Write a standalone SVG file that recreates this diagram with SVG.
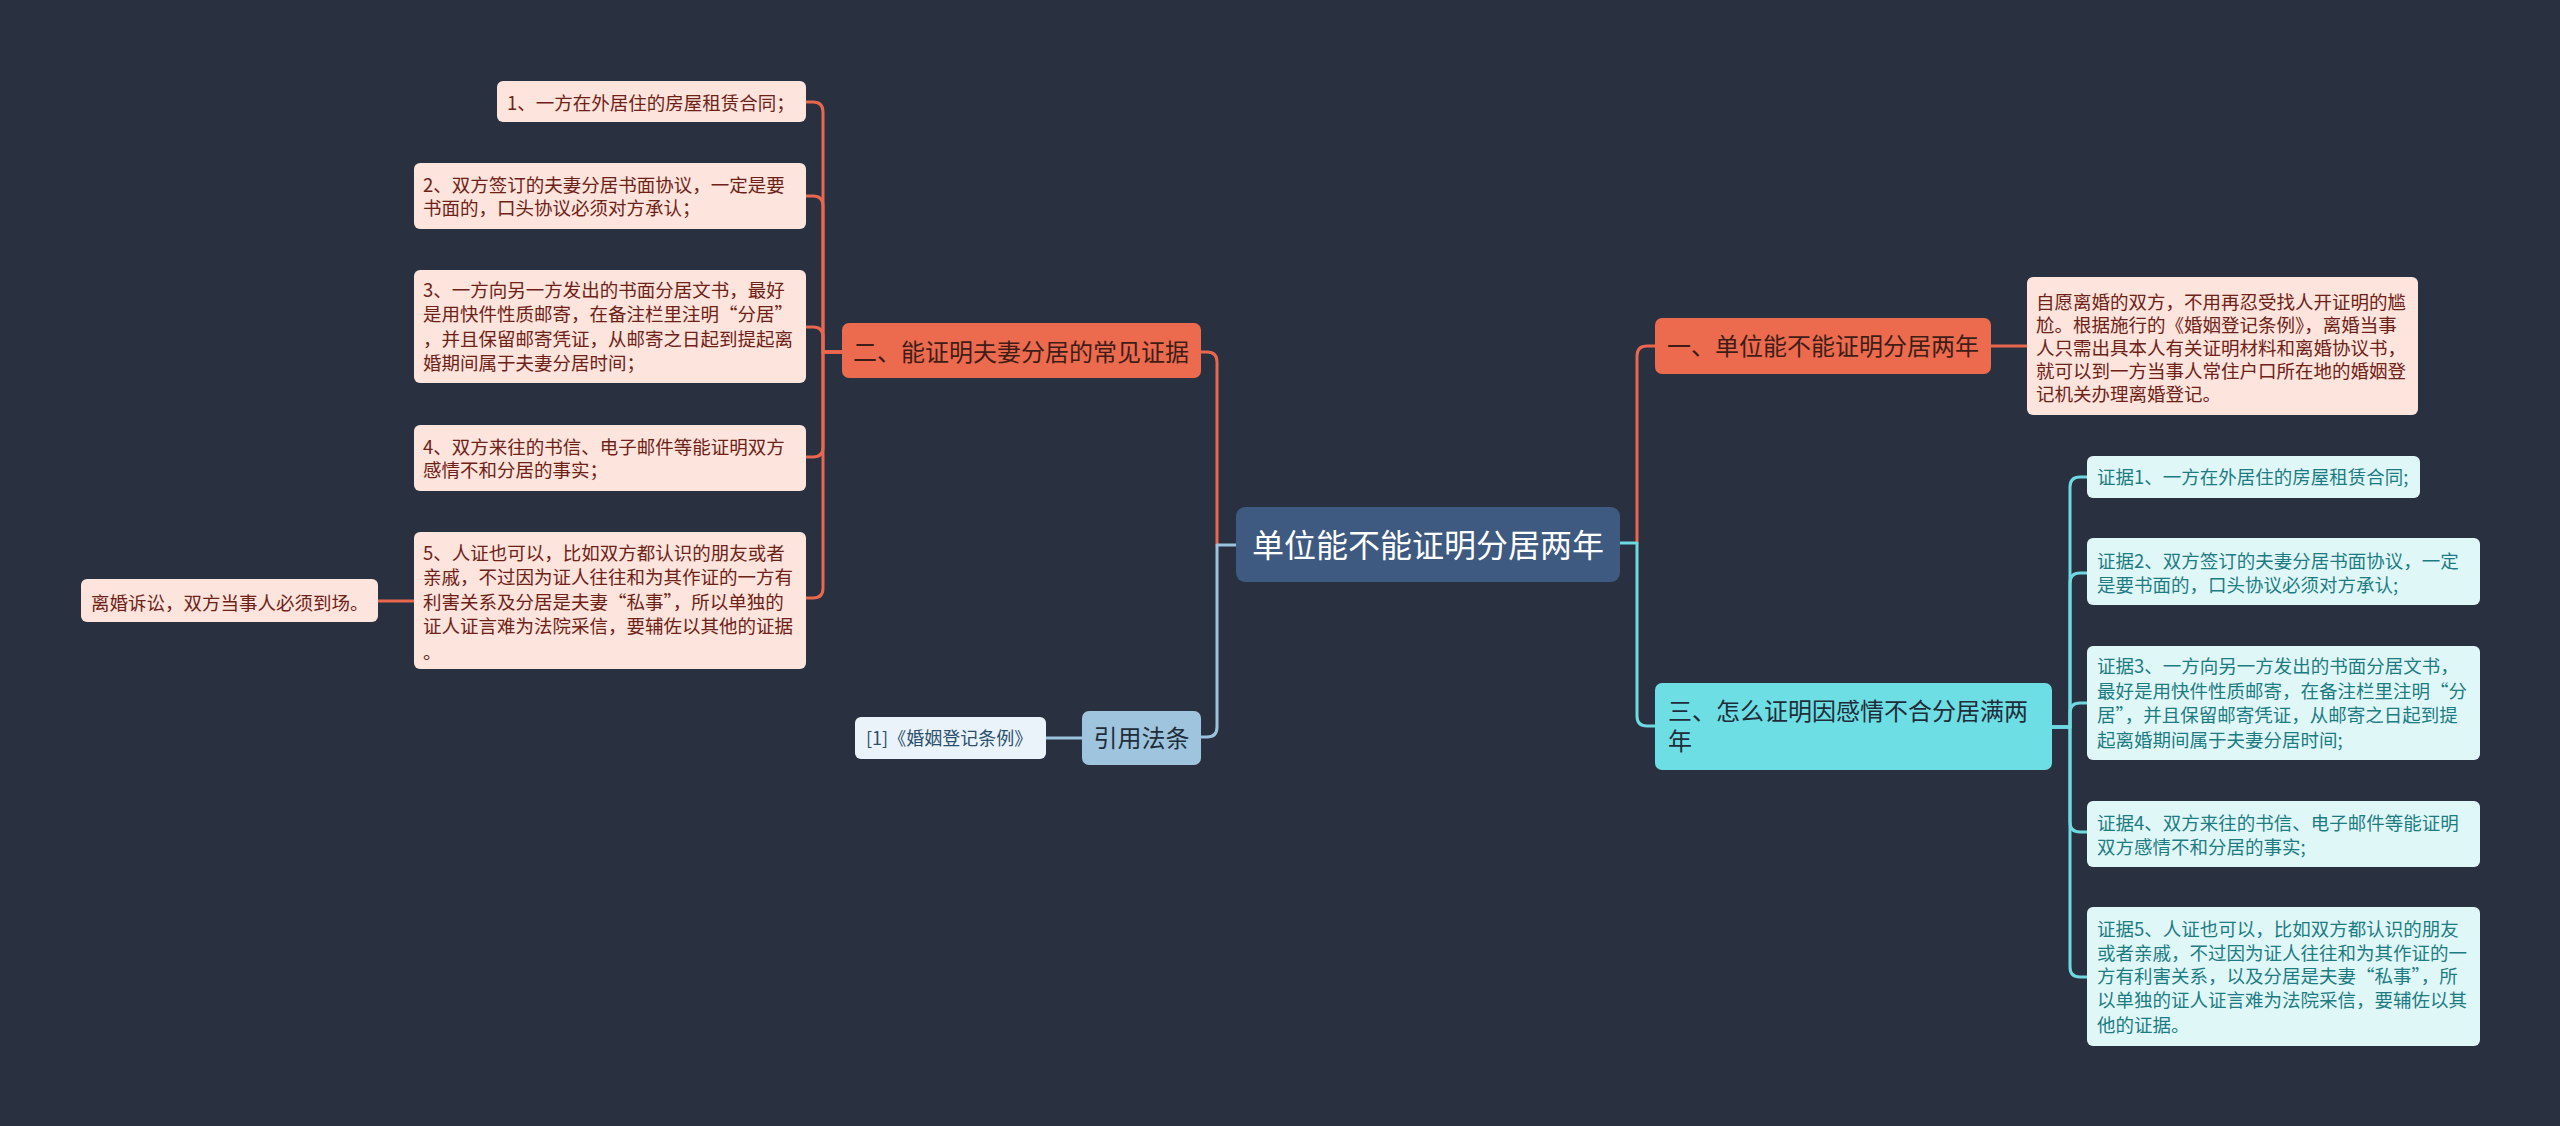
<svg xmlns="http://www.w3.org/2000/svg" width="2560" height="1126" viewBox="0 0 2560 1126">
<style>
text{font-family:"Noto Sans CJK SC","Noto Sans",sans-serif;}
.bg{fill:#29303f;}
.center{fill:#3e5a80;}
.ct{fill:#ffffff;font-size:32px;}
.red{fill:#ec6b4f;}
.redt{fill:#3f1d16;font-size:24px;}
.cyan{fill:#6ddfe4;}
.cyant{fill:#1f2d3a;font-size:24px;}
.lblue{fill:#9ec4de;}
.lbluet{fill:#1f2d3a;font-size:24px;}
.pink{fill:#fde4dc;}
.pinkt{fill:#6e2217;font-size:18.5px;}
.lcyan{fill:#e0f7f8;}
.lcyant{fill:#1d7c82;font-size:18.5px;}
.wblue{fill:#eaf3f9;}
.wbluet{fill:#2b4f6e;font-size:18px;}
.c{fill:none;stroke-width:3;stroke-linecap:round;stroke-linejoin:round;}
.cr{stroke:#e8674e;}
.cc{stroke:#6fd9e2;}
.cb{stroke:#9cc3de;}
</style>
<rect class="bg" x="0" y="0" width="2560" height="1126"/>
<g id="connectors">
<path class="c cr" d="M1217,545 V362 Q1217,352 1207,352 H1201"/>
<path class="c cb" d="M1236,545 H1217 V727 Q1217,737 1207,737 H1201"/>
<path class="c cb" d="M1082,738 H1046"/>
<path class="c cr" d="M842,352 H823 V112 Q823,102 813,102 H806"/>
<path class="c cr" d="M842,352 H823 V206 Q823,196 813,196 H806"/>
<path class="c cr" d="M842,352 H823 V337 Q823,327 813,327 H806"/>
<path class="c cr" d="M842,352 H823 V447 Q823,457 813,457 H806"/>
<path class="c cr" d="M842,352 H823 V588 Q823,598 813,598 H806"/>
<path class="c cr" d="M414,601 H378"/>
<path class="c cr" d="M1637,543 V356 Q1637,346 1647,346 H1655"/>
<path class="c cc" d="M1620,543 H1637 V716 Q1637,726 1647,726 H1655"/>
<path class="c cr" d="M1991,346 H2027"/>
<path class="c cc" d="M2052,727 H2070 V487 Q2070,477 2080,477 H2087"/>
<path class="c cc" d="M2052,727 H2070 V583 Q2070,573 2080,573 H2087"/>
<path class="c cc" d="M2052,727 H2070 V713 Q2070,703 2080,703 H2087"/>
<path class="c cc" d="M2052,727 H2070 V822 Q2070,832 2080,832 H2087"/>
<path class="c cc" d="M2052,727 H2070 V967 Q2070,977 2080,977 H2087"/>
</g>
<g id="n-center">
<rect class="center" x="1236" y="507" width="384" height="75" rx="9"/>
<text class="ct" x="1428" y="556.5" text-anchor="middle">单位能不能证明分居两年</text>
</g>
<g id="n-one">
<rect class="red" x="1655" y="318" width="336" height="56" rx="7"/>
<text class="redt" x="1667" y="354.6">一、单位能不能证明分居两年</text>
</g>
<g id="n-one-note">
<rect class="pink" x="2027" y="277" width="391" height="138" rx="6"/>
<text class="pinkt" x="2036" y="308.7">自愿离婚的双方，不用再忍受找人开证明的尴</text>
<text class="pinkt" x="2036" y="331.7">尬。根据施行的《婚姻登记条例》，离婚当事</text>
<text class="pinkt" x="2036" y="354.7">人只需出具本人有关证明材料和离婚协议书，</text>
<text class="pinkt" x="2036" y="377.7">就可以到一方当事人常住户口所在地的婚姻登</text>
<text class="pinkt" x="2036" y="400.7">记机关办理离婚登记。</text>
</g>
<g id="n-three">
<rect class="cyan" x="1655" y="683" width="397" height="87" rx="7"/>
<text class="cyant" x="1668" y="720.3">三、怎么证明因感情不合分居满两</text>
<text class="cyant" x="1668" y="750.3">年</text>
</g>
<g id="n-c1">
<rect class="lcyan" x="2087" y="456" width="333" height="42" rx="6"/>
<text class="lcyant" x="2097" y="483.7">证据1、一方在外居住的房屋租赁合同;</text>
</g>
<g id="n-c2">
<rect class="lcyan" x="2087" y="538" width="393" height="67" rx="6"/>
<text class="lcyant" x="2097" y="568.4">证据2、双方签订的夫妻分居书面协议，一定</text>
<text class="lcyant" x="2097" y="591.7">是要书面的，口头协议必须对方承认;</text>
</g>
<g id="n-c3">
<rect class="lcyan" x="2087" y="646" width="393" height="114" rx="6"/>
<text class="lcyant" x="2097" y="673.4">证据3、一方向另一方发出的书面分居文书，</text>
<text class="lcyant" x="2097" y="698">最好是用快件性质邮寄，在备注栏里注明“分</text>
<text class="lcyant" x="2097" y="722.4">居”，并且保留邮寄凭证，从邮寄之日起到提</text>
<text class="lcyant" x="2097" y="746.7">起离婚期间属于夫妻分居时间;</text>
</g>
<g id="n-c4">
<rect class="lcyan" x="2087" y="801" width="393" height="66" rx="6"/>
<text class="lcyant" x="2097" y="829.7">证据4、双方来往的书信、电子邮件等能证明</text>
<text class="lcyant" x="2097" y="853.7">双方感情不和分居的事实;</text>
</g>
<g id="n-c5">
<rect class="lcyan" x="2087" y="907" width="393" height="139" rx="6"/>
<text class="lcyant" x="2097" y="936">证据5、人证也可以，比如双方都认识的朋友</text>
<text class="lcyant" x="2097" y="959.6">或者亲戚，不过因为证人往往和为其作证的一</text>
<text class="lcyant" x="2097" y="983.4">方有利害关系，以及分居是夫妻“私事”，所</text>
<text class="lcyant" x="2097" y="1007">以单独的证人证言难为法院采信，要辅佐以其</text>
<text class="lcyant" x="2097" y="1031.5">他的证据。</text>
</g>
<g id="n-two">
<rect class="red" x="842" y="323" width="359" height="55" rx="7"/>
<text class="redt" x="853" y="360.6">二、能证明夫妻分居的常见证据</text>
</g>
<g id="n-l1">
<rect class="pink" x="497" y="81" width="309" height="41" rx="6"/>
<text class="pinkt" x="507" y="109.7">1、一方在外居住的房屋租赁合同；</text>
</g>
<g id="n-l2">
<rect class="pink" x="414" y="163" width="392" height="66" rx="6"/>
<text class="pinkt" x="423" y="191.7">2、双方签订的夫妻分居书面协议，一定是要</text>
<text class="pinkt" x="423" y="214.7">书面的，口头协议必须对方承认；</text>
</g>
<g id="n-l3">
<rect class="pink" x="414" y="270" width="392" height="113" rx="6"/>
<text class="pinkt" x="423" y="297.2">3、一方向另一方发出的书面分居文书，最好</text>
<text class="pinkt" x="423" y="321.4">是用快件性质邮寄，在备注栏里注明“分居”</text>
<text class="pinkt" x="423" y="345.6">，并且保留邮寄凭证，从邮寄之日起到提起离</text>
<text class="pinkt" x="423" y="369.8">婚期间属于夫妻分居时间；</text>
</g>
<g id="n-l4">
<rect class="pink" x="414" y="425" width="392" height="66" rx="6"/>
<text class="pinkt" x="423" y="453.7">4、双方来往的书信、电子邮件等能证明双方</text>
<text class="pinkt" x="423" y="476.7">感情不和分居的事实；</text>
</g>
<g id="n-l5">
<rect class="pink" x="414" y="532" width="392" height="137" rx="6"/>
<text class="pinkt" x="423" y="559.7">5、人证也可以，比如双方都认识的朋友或者</text>
<text class="pinkt" x="423" y="584.4">亲戚，不过因为证人往往和为其作证的一方有</text>
<text class="pinkt" x="423" y="608.7">利害关系及分居是夫妻“私事”，所以单独的</text>
<text class="pinkt" x="423" y="633.4">证人证言难为法院采信，要辅佐以其他的证据</text>
<text class="pinkt" x="423" y="658.7">。</text>
</g>
<g id="n-l5-child">
<rect class="pink" x="81" y="579" width="297" height="43" rx="6"/>
<text class="pinkt" x="91" y="609.7">离婚诉讼，双方当事人必须到场。</text>
</g>
<g id="n-law">
<rect class="lblue" x="1082" y="711" width="119" height="54" rx="7"/>
<text class="lbluet" x="1141.5" y="746.6" text-anchor="middle">引用法条</text>
</g>
<g id="n-law-1">
<rect class="wblue" x="855" y="717" width="191" height="42" rx="6"/>
<text class="wbluet" x="866" y="744.5">[1]《婚姻登记条例》</text>
</g>
</svg>
